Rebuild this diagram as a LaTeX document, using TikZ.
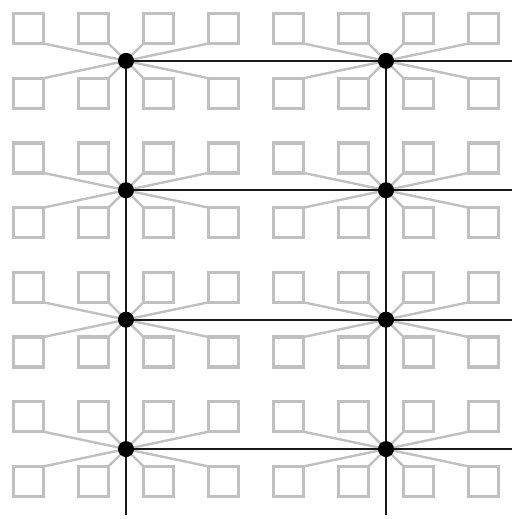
\documentclass[tikz,border=0pt]{standalone}
\usetikzlibrary{calc}
\definecolor{sqgray}{RGB}{192,192,192}
\definecolor{linedark}{RGB}{25,25,25}
\tikzset{
  sq/.style={draw=sqgray, line width=3.4pt, minimum size=30pt, inner sep=0pt, outer sep=0pt, rectangle},
  spoke/.style={draw=sqgray, line width=2.4pt},
  hub/.style={circle, fill=black, minimum size=16pt, inner sep=0pt, outer sep=0pt},
  wire/.style={draw=linedark, line width=2.3pt}
}
\begin{document}
\begin{tikzpicture}[x=1pt,y=-1pt]
\useasboundingbox (0,0) rectangle (512,519);
\foreach \i in {0,...,3}{
  \foreach \j in {0,1}{
    \coordinate (h-\i-\j) at ({126+260*\j},{60.85+129.4*\i});
    \foreach \c in {0,...,3}{
      \node[sq] (t-\i-\j-\c) at ({28.5+65*(4*\j+\c)},{28.5+129.4*\i}) {};
      \node[sq] (b-\i-\j-\c) at ({28.5+65*(4*\j+\c)},{93.2+129.4*\i}) {};
    }
    \foreach \c in {0,1}{
      \draw[spoke] (t-\i-\j-\c.south east) -- (h-\i-\j);
      \draw[spoke] (b-\i-\j-\c.north east) -- (h-\i-\j);
    }
    \foreach \c in {2,3}{
      \draw[spoke] (t-\i-\j-\c.south west) -- (h-\i-\j);
      \draw[spoke] (b-\i-\j-\c.north west) -- (h-\i-\j);
    }
  }
}
% redraw squares on top of spokes
\foreach \i in {0,...,3}{
  \foreach \j in {0,1}{
    \foreach \c in {0,...,3}{
      \node[sq] at (t-\i-\j-\c) {};
      \node[sq] at (b-\i-\j-\c) {};
    }
  }
}
\foreach \j in {0,1}{
  \coordinate (vend-\j) at ({126+260*\j},515);
  \draw[wire] (h-0-\j) -- (h-1-\j) -- (h-2-\j) -- (h-3-\j) -- (vend-\j);
}
\foreach \i in {0,...,3}{
  \coordinate (hend-\i) at (512,{60.85+129.4*\i});
  \draw[wire] (h-\i-0) -- (h-\i-1) -- (hend-\i);
}
\foreach \i in {0,...,3}{
  \foreach \j in {0,1}{
    \node[hub] (d-\i-\j) at (h-\i-\j) {};
  }
}
\end{tikzpicture}
\end{document}
